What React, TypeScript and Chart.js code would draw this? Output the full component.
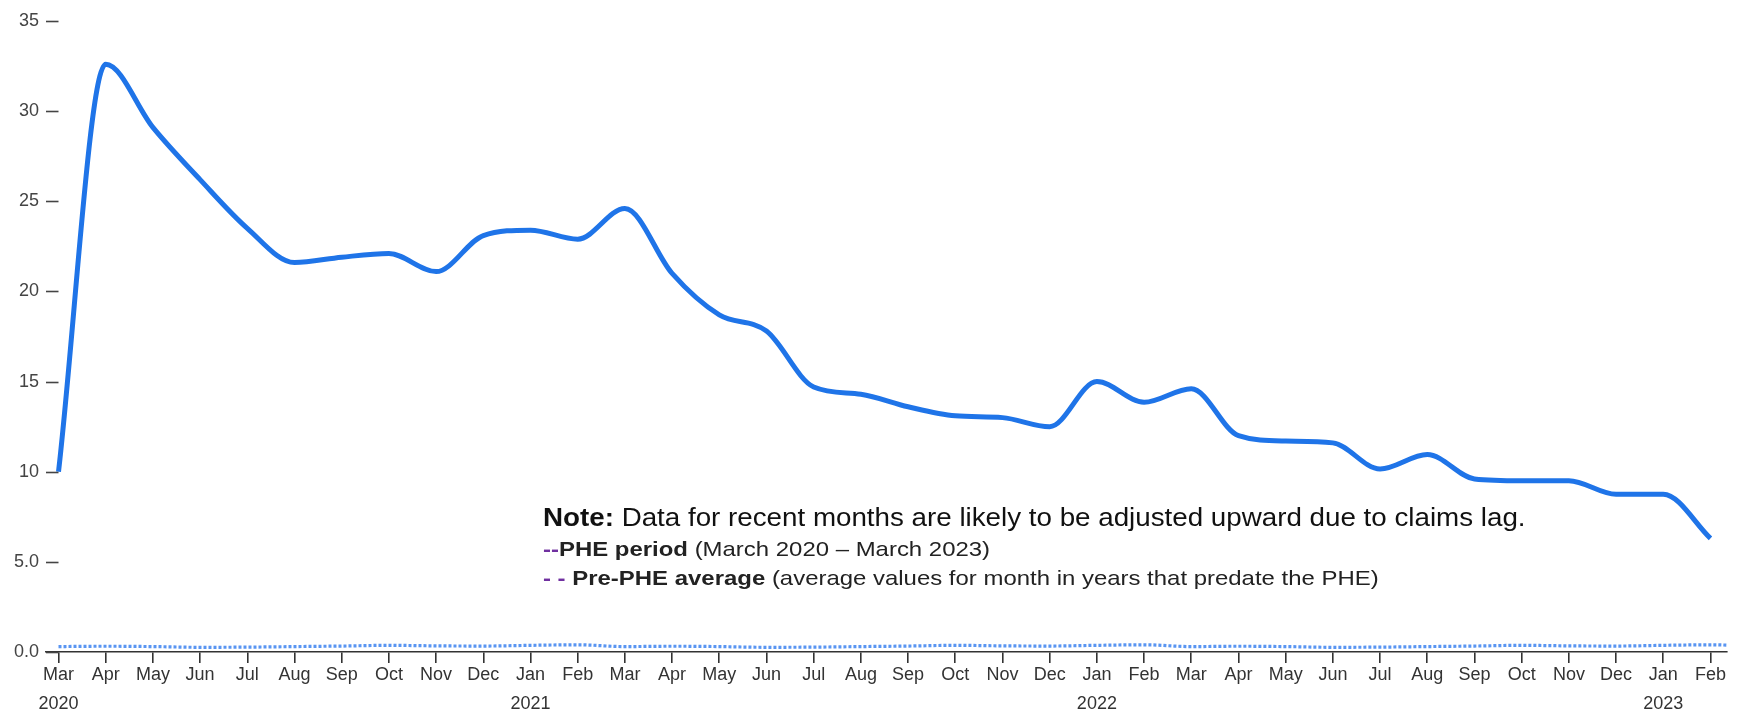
import React, { useEffect, useRef } from "react";
import { Chart, registerables } from "chart.js";

Chart.register(...registerables);

const monthLabels = [
  "Mar", "Apr", "May", "Jun", "Jul", "Aug", "Sep", "Oct", "Nov", "Dec", "Jan", "Feb",
  "Mar", "Apr", "May", "Jun", "Jul", "Aug", "Sep", "Oct", "Nov", "Dec", "Jan", "Feb",
  "Mar", "Apr", "May", "Jun", "Jul", "Aug", "Sep", "Oct", "Nov", "Dec", "Jan", "Feb",
];
const yearLabels = [
  "2020", "", "", "", "", "", "", "", "", "", "2021", "",
  "", "", "", "", "", "", "", "", "", "", "2022", "",
  "", "", "", "", "", "", "", "", "", "", "2023", "",
];
const pheValues = [
  10.0, 32.6, 29.1, 26.2, 23.5, 21.6, 21.9, 22.1, 21.1, 23.1, 23.4, 22.9,
  24.6, 21.0, 18.7, 17.8, 14.7, 14.3, 13.6, 13.1, 13.0, 12.5, 15.0, 13.85,
  14.6, 12.0, 11.7, 11.6, 10.15, 10.95, 9.6, 9.5, 9.5, 8.75, 8.75, 6.3,
];
const prePheAverage = [
  0.30, 0.32, 0.30, 0.26, 0.27, 0.30, 0.33, 0.37, 0.34, 0.33, 0.37, 0.40,
  0.30, 0.32, 0.30, 0.26, 0.27, 0.30, 0.33, 0.37, 0.34, 0.33, 0.37, 0.40,
  0.30, 0.32, 0.30, 0.26, 0.27, 0.30, 0.33, 0.37, 0.34, 0.33, 0.37, 0.40,
  0.30,
];
const yTicks = [0, 5, 10, 15, 20, 25, 30, 35];

const FONT = "'Liberation Sans', Arial, Helvetica, sans-serif";

export default function App() {
  const ref = useRef<HTMLCanvasElement | null>(null);

  useEffect(() => {
    if (!ref.current) return;
    const yDashes = {
      id: "yDashes",
      afterDraw(chart: any) {
        const { ctx, chartArea, scales } = chart;
        const ys = scales.y;
        const xs = scales.x;
        const x0 = xs.getPixelForValue(0);
        ctx.save();
        ctx.strokeStyle = "#444";
        ctx.lineWidth = 1.6;
        yTicks.forEach((v) => {
          const y = Math.round(ys.getPixelForValue(v)) + 0.5;
          ctx.beginPath();
          ctx.moveTo(chartArea.left, y);
          ctx.lineTo(x0, y);
          ctx.stroke();
        });
        ctx.restore();
      },
    };

    const chart = new Chart(ref.current, {
      type: "line",
      data: {
        datasets: [
          {
            data: prePheAverage.map((v, i) => ({ x: i, y: v })),
            borderColor: "rgba(60,130,240,0.85)",
            borderWidth: 3.2,
            borderDash: [3, 2],
            pointRadius: 0,
            cubicInterpolationMode: "monotone",
            fill: false,
          },
          {
            data: pheValues.map((v, i) => ({ x: i, y: v })),
            borderColor: "#1f74e8",
            borderWidth: 5,
            pointRadius: 0,
            cubicInterpolationMode: "monotone",
            fill: false,
          },
        ],
      },
      options: {
        responsive: true,
        maintainAspectRatio: false,
        animation: false,
        layout: { padding: { top: 21, right: 13, bottom: 0, left: 0 } },
        plugins: { legend: { display: false }, tooltip: { enabled: false } },
        scales: {
          x: {
            type: "linear",
            min: -0.265,
            max: 35.35,
            afterBuildTicks: (s: any) => {
              s.ticks = monthLabels.map((_, i) => ({ value: i }));
            },
            afterFit: (s: any) => {
              s.height = 60;
            },
            ticks: {
              autoSkip: false,
              maxRotation: 0,
              padding: -2.5,
              color: "#333",
              font: { family: FONT, size: 18, lineHeight: 1.61 },
              callback: (v: any) => {
                const i = Math.round(Number(v));
                return yearLabels[i] ? [monthLabels[i], yearLabels[i]] : monthLabels[i];
              },
            },
            grid: { drawOnChartArea: false, tickLength: 11, color: "#333", lineWidth: 1.6 },
            border: { display: true, color: "#333", width: 1.6 },
          },
          y: {
            min: 0,
            max: 35,
            afterBuildTicks: (s: any) => {
              s.ticks = yTicks.map((v) => ({ value: v }));
            },
            afterFit: (s: any) => {
              s.width = 46;
            },
            ticks: {
              padding: 7,
              color: "#444",
              font: { family: FONT, size: 18 },
              callback: (v: any) => (Number(v) < 10 ? Number(v).toFixed(1) : String(v)),
            },
            grid: { display: false, drawTicks: false },
            border: { display: false },
          },
        },
      },
      plugins: [yDashes],
    });
    return () => chart.destroy();
  }, []);

  const lineStyle: React.CSSProperties = {
    position: "absolute",
    left: 543,
    whiteSpace: "nowrap",
    fontFamily: FONT,
    color: "#222",
    transformOrigin: "left center",
  };

  return (
    <div style={{ position: "fixed", left: 0, top: 0, width: 1740, height: 712, background: "#fff" }}>
      <canvas ref={ref} />
      <div style={{ ...lineStyle, top: 502, fontSize: 25, lineHeight: "30px", color: "#111", transform: "scaleX(1.11)" }}>
        <b>Note:</b> Data for recent months are likely to be adjusted upward due to claims lag.
      </div>
      <div style={{ ...lineStyle, top: 535.5, fontSize: 21, lineHeight: "25px", transform: "scaleX(1.14)" }}>
        <b><span style={{ color: "#7030A0" }}>--</span>PHE period</b> (March 2020 – March 2023)
      </div>
      <div style={{ ...lineStyle, top: 564.5, fontSize: 21, lineHeight: "25px", transform: "scaleX(1.14)" }}>
        <b><span style={{ color: "#7030A0" }}>- -</span> Pre-PHE average</b> (average values for month in years that predate the PHE)
      </div>
    </div>
  );
}
